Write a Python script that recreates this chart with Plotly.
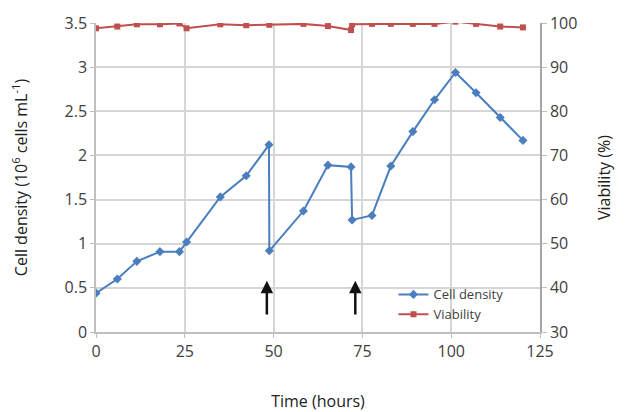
import plotly.graph_objects as go

# Data
time_density = [0, 6, 11.5, 18, 23.5, 25.5, 35, 42.3, 48.7, 48.8, 58.4, 65.3, 71.8, 72.1, 77.7, 83, 89.2, 95.3, 101.2, 107, 113.8, 120.2]
cell_density = [0.44, 0.60, 0.80, 0.91, 0.91, 1.02, 1.53, 1.77, 2.12, 0.92, 1.37, 1.89, 1.87, 1.27, 1.32, 1.88, 2.27, 2.63, 2.94, 2.71, 2.43, 2.17]

time_viab = [0, 6, 11.5, 18, 23.5, 25.5, 35, 42.3, 48.8, 58.4, 65.3, 71.8, 72.1, 77.7, 83, 89.2, 95.3, 101.2, 107, 113.8, 120.2]
viability = [98.8, 99.2, 99.7, 99.7, 99.9, 98.8, 99.7, 99.5, 99.6, 99.8, 99.3, 98.4, 99.7, 99.8, 99.8, 99.8, 99.8, 100.3, 99.8, 99.2, 99.0]

arrow_times = [48.1, 73.0]
arrow_bottom = 0.18
arrow_top = 0.58

x_ticks = [0, 25, 50, 75, 100, 125]
left_ticks = [0, 0.5, 1, 1.5, 2, 2.5, 3, 3.5]
left_labels = ["0", "0.5", "1", "1.5", "2", "2.5", "3", "3.5"]
right_ticks = [30, 40, 50, 60, 70, 80, 90, 100]

BLUE = "#4a7ebf"
RED = "#c0504d"
GRID = "#d6d6d6"
TXT = "#404040"

fig = go.Figure()
fig.add_trace(go.Scatter(
    x=time_density, y=cell_density, name="Cell density", mode="lines+markers",
    line=dict(color=BLUE, width=2), marker=dict(symbol="diamond", size=7, color=BLUE),
    yaxis="y"))
fig.add_trace(go.Scatter(
    x=time_viab, y=viability, name="Viability", mode="lines+markers",
    line=dict(color=RED, width=2), marker=dict(symbol="square", size=6, color=RED),
    yaxis="y2"))

annotations = []
for t in arrow_times:
    annotations.append(dict(
        x=t, y=arrow_top, ax=t, ay=arrow_bottom, xref="x", yref="y", axref="x", ayref="y",
        text="", showarrow=True, arrowhead=2, arrowsize=1, arrowwidth=2.5, arrowcolor="#111111"))

fig.update_layout(
    width=617, height=404,
    margin=dict(l=88, r=85, t=15, b=80, autoexpand=False),
    plot_bgcolor="white", paper_bgcolor="white",
    font=dict(family="Open Sans", size=16, color=TXT),
    showlegend=True,
    legend=dict(x=0.67, y=0.17, xanchor="left", yanchor="top",
                bgcolor="rgba(255,255,255,0)", font=dict(size=13, color=TXT),
                itemwidth=30, tracegroupgap=0),
    annotations=annotations,
    xaxis=dict(range=[0, 125], tickvals=x_ticks, showgrid=True, gridcolor=GRID, gridwidth=1.5,
               showline=True, linecolor="#bfbfbf", linewidth=1.5, ticks="outside", ticklen=4,
               tickcolor="#bfbfbf", zeroline=False,
               title=dict(text="Time (hours)", standoff=41, font=dict(size=16, color="#222222"))),
    yaxis=dict(range=[0, 3.5], tickvals=left_ticks, ticktext=left_labels, showgrid=True,
               gridcolor=GRID, gridwidth=1.5, showline=True, linecolor="#bfbfbf", linewidth=1.5,
               ticks="outside", ticklen=4, tickcolor="#bfbfbf", zeroline=False,
               title=dict(text="Cell density (10<sup>6</sup> cells mL<sup>-1</sup>)", standoff=46,
                          font=dict(size=16, color="#222222"))),
    yaxis2=dict(range=[30, 100], tickvals=right_ticks, overlaying="y", side="right",
                showgrid=False, showline=True, linecolor="#a6a6a6", linewidth=1.5,
                ticks="outside", ticklen=5, tickcolor="#bfbfbf", zeroline=False,
                title=dict(text="Viability (%)", standoff=22, font=dict(size=16, color="#222222"))),
)

fig.write_html("out.html")
